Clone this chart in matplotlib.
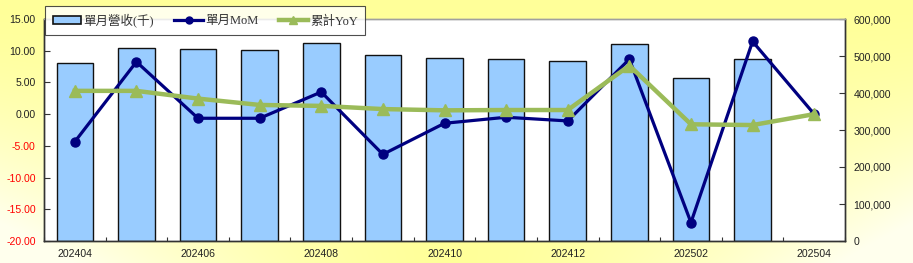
import numpy as np
import matplotlib
matplotlib.use("Agg")
import matplotlib.pyplot as plt
from matplotlib.patches import Patch
from matplotlib.lines import Line2D

months = ["202404", "202405", "202406", "202407", "202408", "202409", "202410",
          "202411", "202412", "202501", "202502", "202503", "202504"]
revenue = [480800, 520300, 518700, 514900, 533900, 502400, 494300,
           492400, 487000, 531200, 440100, 492400, np.nan]
mom = [-4.35, 8.25, -0.65, -0.65, 3.49, -6.34, -1.44, -0.49, -1.07, 8.67, -17.09, 11.46, 0.0]
yoy = [3.67, 3.67, 2.45, 1.45, 1.30, 0.80, 0.60, 0.65, 0.65, 7.65, -1.60, -1.72, 0.0]

left_ticks = [-20, -15, -10, -5, 0, 5, 10, 15]
right_ticks = [0, 100000, 200000, 300000, 400000, 500000, 600000]

W, H = 913, 263
fig = plt.figure(figsize=(W / 100, H / 100), dpi=100)

# yellow gradient background
bg = fig.add_axes([0, 0, 1, 1], zorder=-10)
yy, xx = np.mgrid[0:1:263j, 0:1:913j]
w = np.clip((yy ** 1.6) * (np.abs(xx - 0.5) * 2) ** 1.5 * 1.3, 0, 1)
yel = np.array([1.0, 1.0, 0.60])
wht = np.array([1.0, 1.0, 0.93])
img = yel[None, None, :] * (1 - w[..., None]) + wht[None, None, :] * w[..., None]
bg.imshow(img, aspect="auto", extent=[0, 1, 0, 1])
bg.axis("off")

rect = [44 / W, 22 / H, 801 / W, 222 / H]
ax = fig.add_axes(rect)
ax2 = ax.twinx()

x = np.arange(len(months))
ax.bar(x, revenue, width=0.594, color="#99CCFF", edgecolor="#111111", linewidth=1.0, zorder=2)
ax.set_xlim(-0.5, len(months) - 0.5)
ax.set_ylim(0, 600000)
ax.set_facecolor("white")

ax2.plot(x, mom, color="#000080", lw=2.3, marker="o", ms=6.5, zorder=3)
ax2.plot(x, yoy, color="#9BBB59", lw=3.2, marker="^", ms=8, zorder=4)
ax2.set_ylim(-20, 15)
ax2.patch.set_visible(False)

# revenue scale on the right, percent scale on the left
ax.yaxis.tick_right()
ax.yaxis.set_label_position("right")
ax2.yaxis.tick_left()
ax2.yaxis.set_label_position("left")
ax.set_yticks(right_ticks)
ax.set_yticklabels([f"{v:,}" for v in right_ticks])
ax2.set_yticks(left_ticks)
ax2.set_yticklabels([f"{v:.2f}" for v in left_ticks])

for a in (ax, ax2):
    a.tick_params(axis="y", direction="in", length=4, labelsize=7.6, pad=6, colors="#333333")
    for s in a.spines.values():
        s.set_color("#333333")
        s.set_linewidth(1.0)
    a.spines["top"].set_color("#A0A0A0")
for lab in ax.get_yticklabels():
    lab.set_color("#222222")
for lab, v in zip(ax2.get_yticklabels(), left_ticks):
    lab.set_color("#FF0000" if v < 0 else "#222222")

ax.set_xticks(np.arange(-0.5, len(months), 1))
ax.set_xticklabels([])
ax.set_xticks(x[::2], minor=True)
ax.set_xticklabels(months[::2], minor=True)
ax.tick_params(axis="x", which="major", direction="in", length=3, color="#333333")
ax.tick_params(axis="x", which="minor", length=0, labelsize=7.6, pad=6, labelcolor="#222222")

for t in ax.get_xticklabels(minor=True) + ax.get_yticklabels() + ax2.get_yticklabels():
    t.set_family("Liberation Sans")

handles = [
    Patch(facecolor="#99CCFF", edgecolor="#111111", linewidth=1.2),
    Line2D([], [], color="#000080", lw=2.3, marker="o", ms=5),
    Line2D([], [], color="#9BBB59", lw=3.2, marker="^", ms=6),
]
labels = ["單月營收(千)", "單月MoM", "累計YoY"]
leg = fig.legend(handles, labels, loc="upper left", bbox_to_anchor=(45 / W, 1 - 6 / H),
                 ncol=3, frameon=True, fancybox=False, edgecolor="#222222",
                 prop={"family": ["Liberation Serif", "Noto Sans CJK TC"], "size": 9},
                 handlelength=2.3, handleheight=0.5, handletextpad=0.2, columnspacing=1.6,
                 borderpad=0.6, borderaxespad=0)
leg.get_frame().set_linewidth(0.8)
for t in leg.get_texts():
    t.set_color("#333333")

fig.savefig("out.png", dpi=100)
